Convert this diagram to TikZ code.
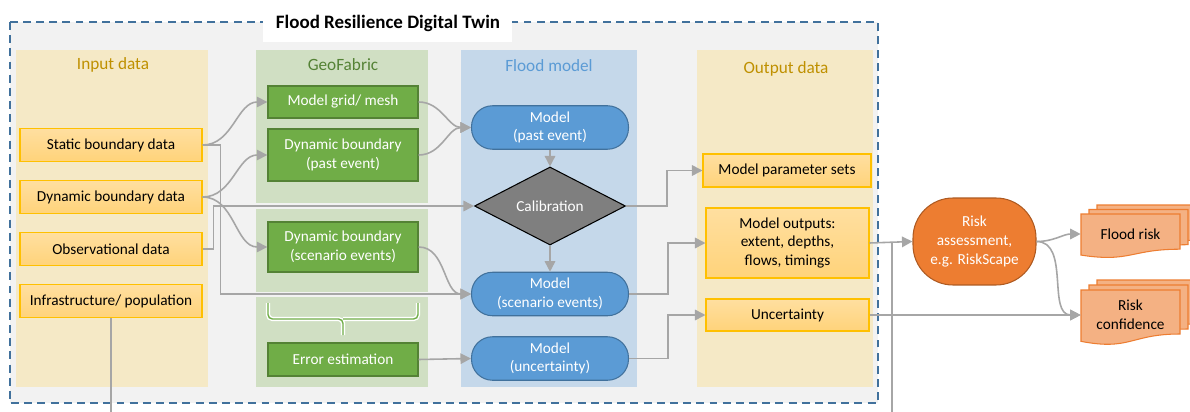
\documentclass[tikz,border=0pt]{standalone}
\usepackage{fontspec}
\setmainfont{Carlito}
\usepackage[usenames,dvipsnames,x11names,rgb]{xcolor}
\usepackage{tikz}
\usetikzlibrary{calc, shapes.geometric, arrows.meta}

\definecolor{FrameBlue}{HTML}{41719C}
\definecolor{PanelGray}{HTML}{F2F2F2}
\definecolor{SandBg}{HTML}{F5E9C6}
\definecolor{SandHead}{HTML}{BF9000}
\definecolor{LeafBg}{HTML}{D0DFC3}
\definecolor{LeafHead}{HTML}{548235}
\definecolor{Leaf}{HTML}{70AD47}
\definecolor{SkyBg}{HTML}{C5D8EA}
\definecolor{Sky}{HTML}{5B9BD5}
\definecolor{Amber}{HTML}{FFC000}
\definecolor{AmberTop}{HTML}{FFDFA0}
\definecolor{AmberBot}{HTML}{FFD37A}
\definecolor{Rust}{HTML}{ED7D31}
\definecolor{RustEdge}{HTML}{AE5A21}
\definecolor{Peach}{HTML}{F4B183}
\definecolor{Wire}{HTML}{A6A6A6}
\definecolor{Slate}{HTML}{7F7F7F}

\newcommand{\boxfont}{\fontsize{8.7pt}{10.6pt}\selectfont}
\newcommand{\headfont}{\fontsize{9.8pt}{11pt}\selectfont}
\newcommand{\titlefont}{\fontsize{10.8pt}{12pt}\selectfont\bfseries}
% one page of a document stack: x0, y0, width, height
\newcommand{\docpage}[4]{%
    \draw[fill=Peach, draw=Rust, line width=0.6pt] (#1,#2) -- ({#1+#3},#2) -- ({#1+#3},{#2+0.8*#4})
        .. controls ({#1+0.5*#3},{#2+0.8*#4}) and ({#1+0.5*#3},{#2+1.107*#4}) .. (#1,{#2+0.934*#4}) -- cycle;}

\begin{document}
\begin{tikzpicture}[x=0.02cm, y=-0.02cm,
        inbox/.style={draw=Amber, line width=0.6pt, top color=AmberTop, bottom color=AmberBot,
            font=\boxfont, align=center, inner sep=1pt},
        geobox/.style={draw=LeafHead, line width=0.8pt, fill=Leaf, text=white, minimum width=3cm,
            font=\boxfont, align=center, inner sep=1pt},
        modelbox/.style={draw=FrameBlue, line width=0.6pt, fill=Sky, text=white, rounded corners=0.42cm,
            minimum width=3.14cm, minimum height=0.87cm, font=\boxfont, align=center, inner sep=1pt},
        calibbox/.style={diamond, draw=black, line width=0.6pt, fill=Slate, text=white,
            minimum width=3.02cm, minimum height=1.3cm, inner sep=0pt, font=\boxfont},
        riskbox/.style={draw=RustEdge, line width=0.6pt, fill=Rust, text=white, rounded corners=0.8cm,
            minimum width=2.46cm, minimum height=1.74cm, font=\boxfont, align=center},
        docnode/.style={minimum width=1.98cm, font=\boxfont, align=center, inner sep=1pt},
        colhead/.style={font=\headfont},
        wire/.style={draw=Wire, line width=0.9pt},
        flow/.style={wire, -{Triangle[length=6pt, width=6pt]}}]

        \useasboundingbox (0,0) rectangle (1190,412);
        \clip (0,0) rectangle (1190,412);
        \fill[white] (0,0) rectangle (1190,412);

        \draw[FrameBlue, fill=PanelGray, line width=1.1pt, dash pattern=on 4.5pt off 3pt] (10,22) rectangle (878,403);
        \fill[white] (263,6) rectangle (512,42);
        \node[font=\titlefont] (title) at (388,23) {Flood Resilience Digital Twin};

        \fill[SandBg] (16,50) rectangle (208,387);
        \fill[LeafBg] (256,50) rectangle (428,203);
        \fill[LeafBg] (256,209) rectangle (428,292);
        \fill[LeafBg] (256,297) rectangle (428,387);
        \fill[SkyBg] (461,50) rectangle (637,387);
        \fill[SandBg] (697,50) rectangle (873,387);

        \node[colhead, text=SandHead] (inhead) at (113,65) {Input data};
        \node[colhead, text=LeafHead] (geohead) at (343,65) {GeoFabric};
        \node[colhead, text=Sky] (floodhead) at (549,66) {Flood model};
        \node[colhead, text=SandHead] (outhead) at (786,69) {Output data};

        \node[inbox, minimum width=3.64cm, minimum height=0.66cm] (sbd) at (111,145) {Static boundary data};
        \node[inbox, minimum width=3.64cm, minimum height=0.66cm] (dbd) at (111,197) {Dynamic boundary data};
        \node[inbox, minimum width=3.64cm, minimum height=0.66cm] (obs) at (111,249) {Observational data};
        \node[inbox, minimum width=3.64cm, minimum height=0.66cm] (infra) at (111,301) {Infrastructure/ population};

        \node[geobox, minimum height=0.64cm] (grid) at (343,102) {Model grid/ mesh};
        \node[geobox, minimum height=1.04cm] (dpast) at (343,155) {Dynamic boundary\\(past event)};
        \node[geobox, minimum height=1.0cm] (dscen) at (343,247) {Dynamic boundary\\(scenario events)};
        \node[geobox, minimum height=0.66cm] (errest) at (343,359.5) {Error estimation};

        \draw[white, line width=2.4pt, rounded corners=2.5pt] (268,303) -- (268,319) -- (343,319) -- (343,335)
            (418,303) -- (418,319) -- (343,319);
        \draw[Leaf, line width=0.8pt, rounded corners=2.5pt] (268,303) -- (268,319) -- (343,319) -- (343,335)
            (418,303) -- (418,319) -- (343,319);

        \node[modelbox] (mpast) at (550,127.5) {Model\\(past event)};
        \node[calibbox] (calib) at (550,206) {Calibration};
        \node[modelbox] (mscen) at (550,294) {Model\\(scenario events)};
        \node[modelbox] (munc) at (550,358.5) {Model\\(uncertainty)};

        \node[inbox, minimum width=3.36cm, minimum height=0.66cm] (mps) at (787,170.5) {Model parameter sets};
        \node[inbox, minimum width=3.26cm, minimum height=1.4cm] (mout) at (787.5,243) {Model outputs:\\extent, depths,\\flows, timings};
        \node[inbox, minimum width=3.26cm, minimum height=0.64cm] (unc) at (787.5,315) {Uncertainty};

        \node[riskbox] (risk) at (974.5,241.5) {Risk\\assessment,\\e.g. RiskScape};

        \docpage{1097}{205}{99}{44}
        \docpage{1089}{209.5}{99}{44}
        \docpage{1081}{214}{99}{44}
        \node[docnode] (frisk) at (1130.5,234) {Flood risk};
        \docpage{1097}{280}{99}{55}
        \docpage{1089}{285}{99}{55}
        \docpage{1081}{290}{99}{55}
        \node[docnode] (rconf) at (1130.5,315) {Risk\\confidence};

        \coordinate (infraend) at (111,412);
        \coordinate (riskend) at (892,412);

        \draw[flow] (sbd.east) to[out=0, in=180] (grid.west);
        \draw[flow] (sbd.east) -- ++(18,0) |- (mscen.west);
        \draw[flow] (dbd.east) to[out=0, in=180] (dpast.west);
        \draw[flow] (dbd.east) to[out=0, in=180] (dscen.west);
        \draw[flow] (obs.east) -- ++(11,0) |- (calib.west);
        \draw[wire] (infra.south) -- (infraend);

        \draw[flow] (grid.east) to[out=0, in=180] (mpast.west);
        \draw[flow] (dpast.east) to[out=0, in=180] (mpast.west);
        \draw[flow] (dscen.east) to[out=0, in=180] (mscen.west);
        \draw[flow] (errest.east) -- (munc.west);

        \draw[flow] (mpast.south) -- (calib.north);
        \draw[flow] (calib.south) -- (mscen.north);
        \draw[flow] (calib.east) -- ++(41,0) |- (mps.west);
        \draw[flow] (mscen.east) -- ++(39,0) |- (mout.west);
        \draw[flow] (munc.east) -- ++(39,0) |- (unc.west);

        \draw[flow] (mout.east) -- (risk.west);
        \draw[wire] (riskend) -- (riskend |- mout.east);
        \draw[flow] (unc.east) -- (unc.east -| rconf.west);
        \draw[flow] (risk.east) to[out=0, in=180] (frisk.west);
        \draw[flow] (risk.east) to[out=0, in=180] (rconf.west);
    \end{tikzpicture}
\end{document}
